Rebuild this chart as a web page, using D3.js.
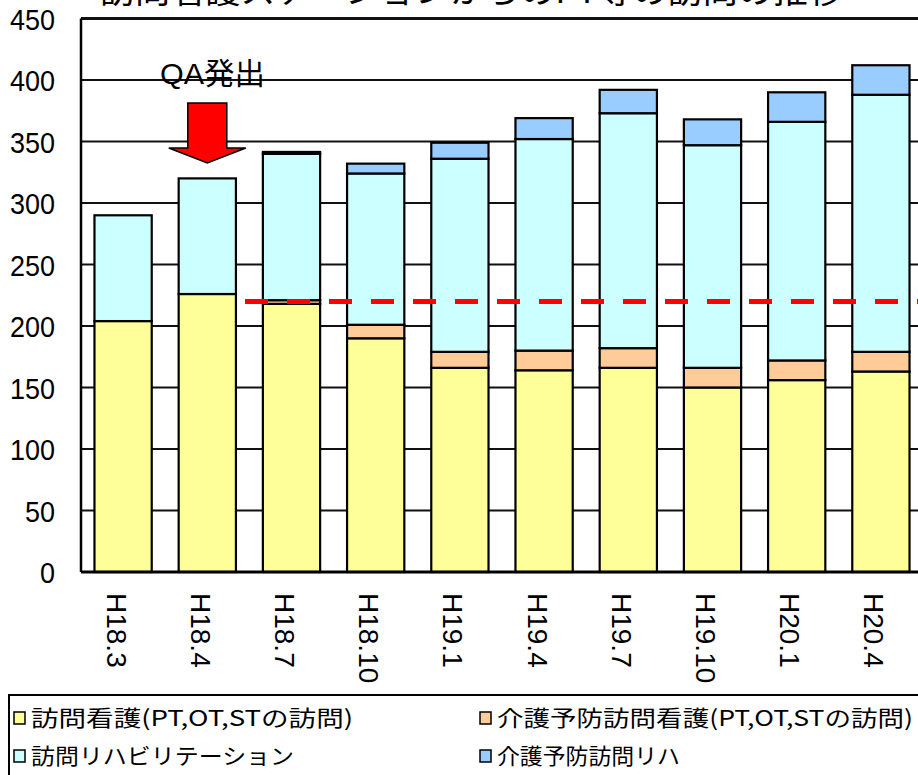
<!DOCTYPE html>
<html><head><meta charset="utf-8">
<script src="https://cdn.jsdelivr.net/npm/d3@7"></script>
<style>body{margin:0;background:#fff;}svg{display:block;}</style>
</head><body>
<script>
const categories = ["H18.3","H18.4","H18.7","H18.10","H19.1","H19.4","H19.7","H19.10","H20.1","H20.4"];
const houmonKango   = [204,226,218,190,166,164,166,150,156,163];
const yoboKango     = [0,0,3,11,13,16,16,16,16,16];
const houmonReha    = [86,94,119,123,157,172,191,181,194,209];
const yoboReha      = [0,0,1.5,8,13,17,19,21,24,24];
const yTicks = [0,50,100,150,200,250,300,350,400,450];
const refLine = 220;
const seriesNames = ["訪問看護(PT,OT,STの訪問)","介護予防訪問看護(PT,OT,STの訪問)","訪問リハビリテーション","介護予防訪問リハ"];
const seriesColors = ["#FFFF99","#FFCC99","#CCFFFF","#99CCFF"];
const title = "訪問看護ステーションからのPT等の訪問の推移";
const annotation = "QA発出";

const W=918,H=775;
const svg=d3.select("body").append("svg").attr("width",W).attr("height",H);
const pLeft=81, pTop=18.5, pBottom=572, step=84.2;
const x=d3.scaleBand().domain(categories).range([pLeft,pLeft+step*categories.length]).paddingInner(0.32).paddingOuter(0.16);
const y=d3.scaleLinear().domain([0,450]).range([pBottom,pTop]);

// title (cut off at the top edge, as in the reference)
svg.append("text").attr("x",100).attr("y",3).attr("font-family","Noto Sans CJK JP").attr("font-size",34)
  .attr("textLength",743).attr("lengthAdjust","spacingAndGlyphs").text(title);

// gridlines
svg.append("g").selectAll("line").data(yTicks.filter(d=>d>0)).join("line")
  .attr("x1",pLeft).attr("x2",W+10).attr("y1",d=>y(d)).attr("y2",d=>y(d))
  .attr("stroke","#111").attr("stroke-width",d=>d===450?3:2);

// y axis labels
svg.append("g").selectAll("text").data(yTicks).join("text")
  .attr("x",55).attr("y",d=>y(d)+11).attr("text-anchor","end")
  .attr("font-family","Liberation Sans Narrow, Arial Narrow, Liberation Sans, sans-serif").attr("font-size",29)
  .attr("textLength",d=>String(d).length*15).attr("lengthAdjust","spacingAndGlyphs")
  .text(d=>d);

// stacked data
const rows=categories.map((c,i)=>({cat:c,s0:houmonKango[i],s1:yoboKango[i],s2:houmonReha[i],s3:yoboReha[i]}));
const stack=d3.stack().keys(["s0","s1","s2","s3"])(rows);
const gBars=svg.append("g");
stack.forEach((layer,li)=>{
  gBars.append("g").selectAll("rect").data(layer.filter(d=>d[1]-d[0]>0)).join("rect")
    .attr("x",d=>x(d.data.cat)).attr("width",x.bandwidth())
    .attr("y",d=>y(d[1])).attr("height",d=>y(d[0])-y(d[1]))
    .attr("fill",seriesColors[li]).attr("stroke","#000").attr("stroke-width",2.2);
});

// axes lines
svg.append("line").attr("x1",pLeft).attr("x2",pLeft).attr("y1",pTop).attr("y2",pBottom).attr("stroke","#000").attr("stroke-width",2.5);
svg.append("line").attr("x1",pLeft).attr("x2",W+10).attr("y1",pBottom).attr("y2",pBottom).attr("stroke","#000").attr("stroke-width",3);

// reference dashed line
svg.append("line").attr("x1",245).attr("x2",W+10).attr("y1",y(refLine)).attr("y2",y(refLine))
  .attr("stroke","#FF0000").attr("stroke-width",5).attr("stroke-dasharray","23,19");

// x labels
svg.append("g").selectAll("text").data(categories).join("text")
  .attr("transform",d=>`translate(${x(d)+x.bandwidth()/2-16.5},593) rotate(90)`)
  .attr("font-family","Liberation Sans, Arial, sans-serif").attr("font-size",28).text(d=>d);

// annotation
const ax=x("H18.4")+x.bandwidth()/2;
svg.append("text").attr("x",160).attr("y",84).attr("font-family","Liberation Sans, Noto Sans CJK JP, sans-serif").attr("font-size",30)
  .attr("textLength",105).attr("lengthAdjust","spacingAndGlyphs").text(annotation);
svg.append("path")
  .attr("d",`M${ax-19.5},103 L${ax+19.5},103 L${ax+19.5},148 L${ax+38.5},148 L${ax},163 L${ax-38.5},148 L${ax-19.5},148 Z`)
  .attr("fill","#FF0000").attr("stroke","#000").attr("stroke-width",1.5);

// legend
svg.append("rect").attr("x",9).attr("y",695).attr("width",W).attr("height",100).attr("fill","#fff").attr("stroke","#000").attr("stroke-width",2);
const legPos=[[14,718],[480,718],[14,756],[480,756]];
const legLen=[322,416,263,183];
seriesNames.forEach((n,i)=>{
  const [lx,ly]=legPos[i];
  svg.append("rect").attr("x",lx).attr("y",ly-6).attr("width",11).attr("height",12).attr("fill",seriesColors[i]).attr("stroke","#000").attr("stroke-width",1.5);
  svg.append("text").attr("x",lx+17).attr("y",ly+8).attr("font-family","Noto Sans CJK JP").attr("font-size",22)
    .attr("textLength",legLen[i]).attr("lengthAdjust","spacingAndGlyphs").text(n);
});
</script>
</body></html>
